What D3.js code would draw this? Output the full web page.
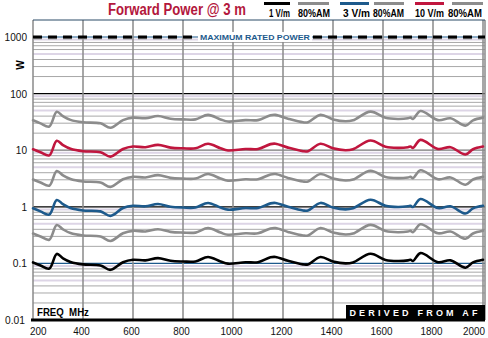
<!DOCTYPE html>
<html>
<head>
<meta charset="utf-8">
<script src="https://cdn.jsdelivr.net/npm/d3@7"></script>
<style>
  html, body { margin: 0; padding: 0; background: #fff; }
  svg { display: block; }
</style>
</head>
<body>
<svg id="chart" width="488" height="338"></svg>
<script>
// Frequency sweep points (MHz)
const freqs = [200, 230, 265, 295, 320, 350, 400, 470, 510, 560, 600, 650, 700, 750, 800, 850, 900, 950, 980, 1050,
  1100, 1150, 1170, 1220, 1280, 1300, 1350, 1400, 1450, 1480, 1550, 1610, 1660, 1700, 1710, 1720, 1750, 1820, 1870, 1930, 1960, 2000];

// Forward power (W) needed for each field level
const p1V = [0.104, 0.092, 0.081, 0.147, 0.123, 0.106, 0.096, 0.092, 0.077, 0.105, 0.116, 0.113, 0.124, 0.111, 0.108, 0.108, 0.130, 0.108, 0.099, 0.105,
  0.105, 0.128, 0.130, 0.111, 0.096, 0.096, 0.130, 0.108, 0.100, 0.104, 0.148, 0.115, 0.110, 0.113, 0.116, 0.110, 0.152, 0.105, 0.113, 0.084, 0.104, 0.116];
const p1VAM = [0.337, 0.298, 0.262, 0.476, 0.399, 0.343, 0.311, 0.298, 0.249, 0.340, 0.376, 0.366, 0.402, 0.360, 0.350, 0.350, 0.421, 0.350, 0.321, 0.340,
  0.340, 0.415, 0.421, 0.360, 0.311, 0.311, 0.421, 0.350, 0.324, 0.337, 0.480, 0.373, 0.356, 0.366, 0.376, 0.356, 0.492, 0.340, 0.366, 0.272, 0.337, 0.376];
const p3V = [0.94, 0.83, 0.73, 1.32, 1.11, 0.95, 0.86, 0.83, 0.69, 0.95, 1.04, 1.02, 1.12, 1.00, 0.97, 0.97, 1.17, 0.97, 0.89, 0.95,
  0.95, 1.15, 1.17, 1.00, 0.86, 0.86, 1.17, 0.97, 0.90, 0.94, 1.33, 1.04, 0.99, 1.02, 1.04, 0.99, 1.37, 0.95, 1.02, 0.76, 0.94, 1.04];
const p3VAM = [3.03, 2.68, 2.36, 4.29, 3.59, 3.09, 2.80, 2.68, 2.25, 3.06, 3.38, 3.30, 3.62, 3.24, 3.15, 3.15, 3.79, 3.15, 2.89, 3.06,
  3.06, 3.73, 3.79, 3.24, 2.80, 2.80, 3.79, 3.15, 2.92, 3.03, 4.32, 3.35, 3.21, 3.30, 3.38, 3.21, 4.43, 3.06, 3.30, 2.45, 3.03, 3.38];
const p10V = [10.4, 9.2, 8.1, 14.7, 12.3, 10.6, 9.6, 9.2, 7.7, 10.5, 11.6, 11.3, 12.4, 11.1, 10.8, 10.8, 13.0, 10.8, 9.9, 10.5,
  10.5, 12.8, 13.0, 11.1, 9.6, 9.6, 13.0, 10.8, 10.0, 10.4, 14.8, 11.5, 11.0, 11.3, 11.6, 11.0, 15.2, 10.5, 11.3, 8.4, 10.4, 11.6];
const p10VAM = [33.7, 29.8, 26.2, 47.6, 39.9, 34.3, 31.1, 29.8, 24.9, 34.0, 37.6, 36.6, 40.2, 36.0, 35.0, 35.0, 42.1, 35.0, 32.1, 34.0,
  34.0, 41.5, 42.1, 36.0, 31.1, 31.1, 42.1, 35.0, 32.4, 33.7, 48.0, 37.3, 35.6, 36.6, 37.6, 35.6, 49.2, 34.0, 36.6, 27.2, 33.7, 37.6];

const maxRated = 1000;
const xTicks = [200, 400, 600, 800, 1000, 1200, 1400, 1600, 1800, 2000];
const yTicks = [0.01, 0.1, 1, 10, 100, 1000];
const yTickLabels = ["0.01", "0.1", "1", "10", "100", "1000"];
const legendLabels = ["1 V/m", "80%AM", "3 V/m", "80%AM", "10 V/m", "80%AM"];

const RED = "#c0163e", BLUE = "#1d5a8c", GRAY = "#8c8c8c", BLACK = "#000";

const series = [
  { values: p10VAM, color: GRAY },
  { values: p10V, color: RED },
  { values: p3VAM, color: GRAY },
  { values: p3V, color: BLUE },
  { values: p1VAM, color: GRAY },
  { values: p1V, color: BLACK }
];

const svg = d3.select("#chart");
const L = 33, R = 483, T = 20, B = 320;

const x = d3.scaleLinear().domain([200, 2000]).range([L, R]);
const y = d3.scaleLog().domain([0.01, Math.pow(10, 3.3)]).range([B, T]);

const SANS = "'Liberation Sans', Arial, sans-serif";

// condensed text: draw at (px, py) and squeeze horizontally to width w
function squeezed(parent, px, py, w, anchor, str) {
  const g = parent.append("g");
  const t = g.append("text").attr("x", 0).attr("y", 0).attr("xml:space", "preserve").text(str);
  return {
    text: t,
    done() {
      const nat = t.node().getComputedTextLength();
      const k = w / nat;
      const dx = anchor === "end" ? -w : anchor === "middle" ? -w / 2 : 0;
      g.attr("transform", `translate(${px + dx},${py}) scale(${k},1)`);
      return t;
    }
  };
}

// minor horizontal grid
const grid = svg.append("g");
const minor = [];
for (let e = -2; e < 4; e++) {
  for (let m = 2; m <= 9; m++) {
    const v = m * Math.pow(10, e);
    if (y(v) >= T) minor.push({ v, m });
  }
}
grid.selectAll("line.minor").data(minor).join("line")
  .attr("x1", L).attr("x2", R + 2)
  .attr("y1", d => y(d.v)).attr("y2", d => y(d.v))
  .attr("stroke", d => (d.m === 5 || d.m === 9) ? "#ddd5e6" : "#a8a8a8")
  .attr("stroke-width", d => (d.m === 5 || d.m === 9) ? 2 : 1);

// decade lines
const decadeColor = { "0.1": BLUE, "1": BLACK, "10": "#777", "100": BLACK, "1000": BLUE };
grid.selectAll("line.decade").data(yTicks.slice(1)).join("line")
  .attr("x1", L).attr("x2", R + 2)
  .attr("y1", d => y(d)).attr("y2", d => y(d))
  .attr("stroke", (d, i) => decadeColor[yTickLabels[i + 1]])
  .attr("stroke-width", 1.2);

// vertical grid
grid.selectAll("line.v").data(xTicks).join("line")
  .attr("x1", d => x(d)).attr("x2", d => x(d))
  .attr("y1", T).attr("y2", B)
  .attr("stroke", "#8a8a8a").attr("stroke-width", 1.5);
grid.append("line").attr("x1", R + 2).attr("x2", R + 2).attr("y1", T).attr("y2", B)
  .attr("stroke", "#8a8a8a").attr("stroke-width", 1.5);
grid.append("line").attr("x1", L).attr("x2", R + 2).attr("y1", T).attr("y2", T)
  .attr("stroke", "#2b4a66").attr("stroke-width", 1);

// maximum rated power
const labelX0 = 197, labelX1 = 313;
const dash = svg.append("g");
[[L, labelX0], [labelX1, R + 2]].forEach(([a, b]) => {
  dash.append("line").attr("x1", a).attr("x2", b)
    .attr("y1", y(maxRated) + 1).attr("y2", y(maxRated) + 1)
    .attr("stroke", "#aaa").attr("stroke-width", 3).attr("stroke-dasharray", "9,6");
  dash.append("line").attr("x1", a).attr("x2", b)
    .attr("y1", y(maxRated)).attr("y2", y(maxRated))
    .attr("stroke", BLACK).attr("stroke-width", 3.2).attr("stroke-dasharray", "9,6");
});
dash.append("rect").attr("x", labelX0 + 1).attr("y", y(maxRated) - 5).attr("width", labelX1 - labelX0 - 2).attr("height", 10).attr("fill", "#fff");
{
  const s = squeezed(dash, (labelX0 + labelX1) / 2, y(maxRated) + 3, 110, "middle", "MAXIMUM RATED POWER");
  s.text.attr("font-family", SANS).attr("font-weight", "bold").attr("font-size", 8).attr("fill", BLUE);
  s.done();
}

// data lines
const line = d3.line().x((d, i) => x(freqs[i])).y(d => y(d)).curve(d3.curveCatmullRom.alpha(0.5));
svg.append("g").selectAll("path").data(series).join("path")
  .attr("d", d => line(d.values))
  .attr("fill", "none").attr("stroke", d => d.color)
  .attr("stroke-width", 2.6).attr("stroke-linejoin", "round").attr("stroke-linecap", "round");

// bottom axis line
svg.append("line").attr("x1", L - 2).attr("x2", R + 2).attr("y1", B).attr("y2", B)
  .attr("stroke", BLACK).attr("stroke-width", 3);

// derived-from box
svg.append("rect").attr("x", 346).attr("y", 305).attr("width", R + 2 - 346).attr("height", 15).attr("fill", BLACK);
svg.append("text").attr("x", 415).attr("y", 316).attr("text-anchor", "middle")
  .attr("font-family", SANS).attr("font-weight", "bold").attr("font-size", 9)
  .attr("fill", "#fff").attr("letter-spacing", 3.2).text("DERIVED FROM AF");

{
  const s = squeezed(svg, 37, 316, 52, "start", "FREQ  MHz");
  s.text.attr("font-family", SANS).attr("font-weight", "bold").attr("font-size", 11);
  s.done();
}

// y tick labels
const yl = svg.append("g");
yTicks.forEach((d, i) => {
  const lab = yTickLabels[i];
  const w = lab.length * 5.6 - (lab.includes(".") ? 2.5 : 0);
  const s = squeezed(yl, i === 0 ? 25 : 27, y(d) + 4, w, "end", lab);
  s.text.attr("font-family", SANS).attr("font-size", 11.5).attr("fill", "#111");
  s.done();
});

// x tick labels
const xl = svg.append("g");
xTicks.forEach((d, i) => {
  const last = i === xTicks.length - 1;
  const s = squeezed(xl, i === 0 ? 30 : (last ? 485 : x(d) - 1.5), 335, String(d).length * 5.5,
    i === 0 ? "start" : (last ? "end" : "middle"), String(d));
  s.text.attr("font-family", SANS).attr("font-size", 11.5).attr("fill", "#111");
  s.done();
});

// unit label
svg.append("text").attr("transform", "translate(24,65) rotate(-90)")
  .attr("text-anchor", "middle").attr("font-family", SANS).attr("font-weight", "bold")
  .attr("font-size", 10).text("W");

// title
{
  const s = squeezed(svg, 108, 15, 138, "start", "Forward Power @ 3 m");
  s.text.attr("font-family", SANS).attr("font-weight", "bold").attr("font-size", 17).attr("fill", "#b3173c");
  s.done();
}

// legend
const legendColors = [BLACK, GRAY, BLUE, GRAY, RED, GRAY];
const legendLines = [[264, 290], [298, 329], [340, 369], [374, 404], [415, 444], [452, 483]];
const legendText = [[269, 21], [298, 32], [343, 27], [373, 31], [415, 29], [448, 34]];
const lg = svg.append("g");
legendLabels.forEach((t, i) => {
  lg.append("line").attr("x1", legendLines[i][0]).attr("x2", legendLines[i][1])
    .attr("y1", 3.5).attr("y2", 3.5).attr("stroke", legendColors[i]).attr("stroke-width", 3);
  const s = squeezed(lg, legendText[i][0], 17, legendText[i][1], "start", t);
  s.text.attr("font-family", SANS).attr("font-weight", "bold").attr("font-size", 11);
  s.done();
});
</script>
</body>
</html>
